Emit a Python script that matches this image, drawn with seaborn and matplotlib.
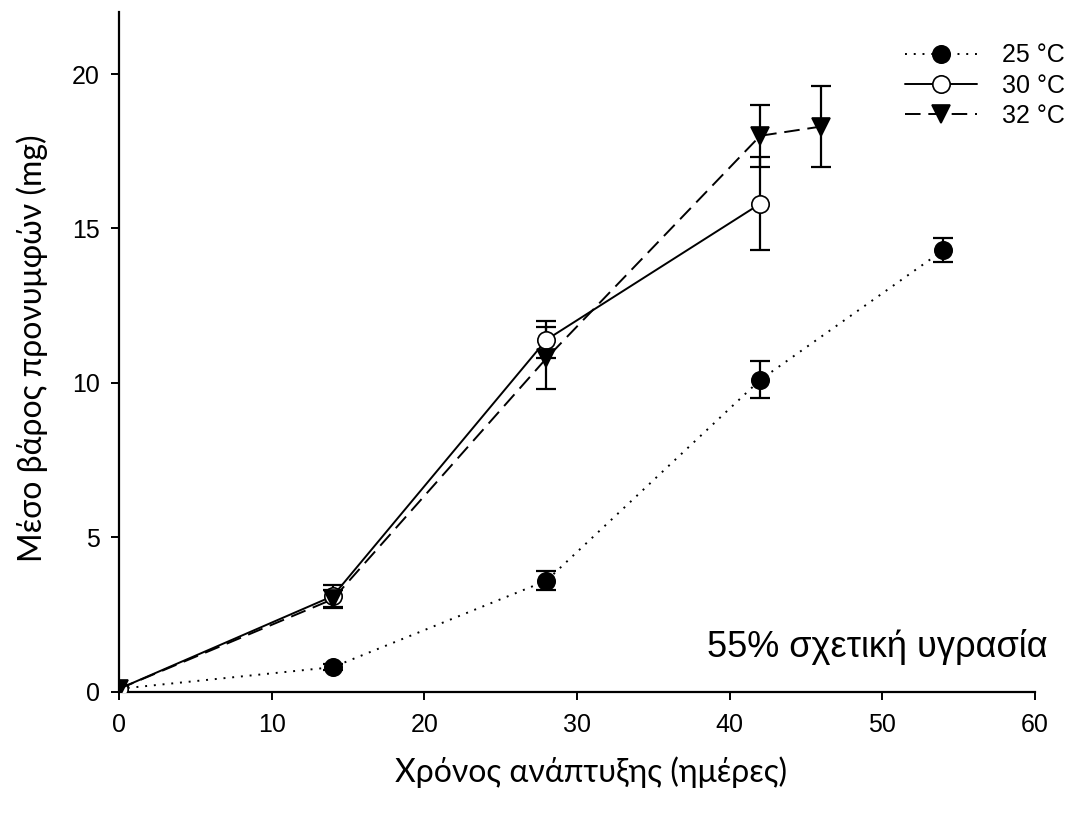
import matplotlib
matplotlib.use("Agg")
import matplotlib.pyplot as plt
import seaborn as sns
import pandas as pd
from matplotlib.lines import Line2D

days_25 = [0, 14, 28, 42, 54]
mass_25 = [0.1, 0.8, 3.6, 10.1, 14.3]
err_25 = [0.05, 0.1, 0.3, 0.6, 0.4]

days_30 = [0, 14, 28, 42]
mass_30 = [0.1, 3.1, 11.4, 15.8]
err_30 = [0.05, 0.35, 0.6, 1.5]

days_32 = [0, 14, 28, 42, 46]
mass_32 = [0.1, 3.0, 10.8, 18.0, 18.3]
err_32 = [0.05, 0.3, 1.0, 1.0, 1.3]

labels = ["25 °C", "30 °C", "32 °C"]

sns.set_theme(style="ticks")
plt.rcParams['font.family'] = ['Liberation Sans', 'DejaVu Sans']
plt.rcParams['text.color'] = 'black'
plt.rcParams['axes.labelcolor'] = 'black'
plt.rcParams['xtick.color'] = 'black'
plt.rcParams['ytick.color'] = 'black'

fig = plt.figure(figsize=(10.84, 8.14), dpi=100)
ax = fig.add_axes([0.1098, 0.150, 0.845, 0.835])

series = [
    (days_25, mass_25, err_25, labels[0], "o", "black", (0, (1, 3.5))),
    (days_30, mass_30, err_30, labels[1], "o", "white", "-"),
    (days_32, mass_32, err_32, labels[2], "v", "black", (0, (8, 4))),
]

handles = []
for d, m, e, lab, mk, fc, ls in series:
    df = pd.DataFrame({"d": d, "m": m})
    ax.errorbar(d, m, yerr=e, fmt="none", ecolor="black", elinewidth=1.6,
                capsize=7.5, capthick=1.6, zorder=2)
    sns.lineplot(data=df, x="d", y="m", ax=ax, color="black", linestyle=ls,
                 linewidth=1.4, marker=mk, markersize=12.5,
                 markerfacecolor=fc, markeredgecolor="black",
                 markeredgewidth=1.2, zorder=3, legend=False)
    handles.append(Line2D([], [], color="black", linestyle=ls, linewidth=1.4,
                          marker=mk, markersize=12.5, markerfacecolor=fc,
                          markeredgecolor="black", markeredgewidth=1.2, label=lab))

ax.set_xlim(0, 60)
ax.set_ylim(0, 22)
ax.set_xticks([0, 10, 20, 30, 40, 50, 60])
ax.set_yticks([0, 5, 10, 15, 20])
ax.tick_params(axis="both", labelsize=18, length=6, width=1.4, direction="out")
ax.tick_params(axis="x", pad=9)
ax.tick_params(axis="y", pad=8)
for s in ["left", "bottom"]:
    ax.spines[s].set_linewidth(1.6)
    ax.spines[s].set_color("black")
sns.despine(ax=ax)

lab_font = ['Lato', 'DejaVu Sans']
ax.set_xlabel("Χρόνος ανάπτυξης (ημέρες)", fontsize=23, family=lab_font)
ax.xaxis.set_label_coords(0.515, -0.095)
ax.set_ylabel("Μέσο βάρος προνυμφών (mg)", fontsize=23, family=lab_font)
ax.yaxis.set_label_coords(-0.077, 0.505)

ax.text(1.014, 0.0515, "55% σχετική υγρασία", transform=ax.transAxes,
        ha="right", va="baseline", fontsize=26)

leg = ax.legend(handles=handles, loc="upper right", bbox_to_anchor=(1.052, 0.98),
                frameon=False, fontsize=18, handlelength=2.9, handletextpad=1.0,
                labelspacing=0.25, borderaxespad=0.3)

fig.savefig("out.png", dpi=100)
